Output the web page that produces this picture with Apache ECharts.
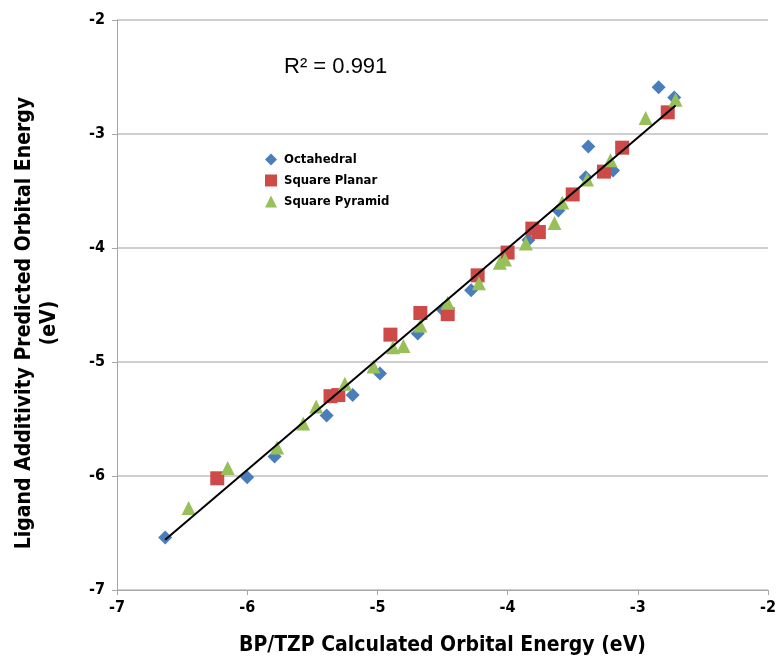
<!DOCTYPE html>
<html>
<head>
<meta charset="utf-8">
<script src="https://cdn.jsdelivr.net/npm/echarts@6/dist/echarts.min.js"></script>
<style>
  html, body { margin: 0; padding: 0; background: #fff; }
  #chart { width: 778px; height: 657px; }
</style>
</head>
<body>
<div id="chart"></div>
<script>
// BP/TZP calculated (x) vs ligand additivity predicted (y), eV
const octaX = [-6.63, -6.00, -5.79, -5.39, -5.19, -4.98, -4.69, -4.50, -4.28, -3.84, -3.61, -3.40, -3.38, -3.19, -2.84, -2.72];
const octaY = [-6.54, -6.01, -5.83, -5.47, -5.29, -5.10, -4.75, -4.54, -4.37, -3.93, -3.67, -3.38, -3.11, -3.32, -2.59, -2.68];

const planarX = [-6.23, -5.36, -5.30, -4.90, -4.67, -4.46, -4.23, -4.00, -3.81, -3.76, -3.50, -3.26, -3.12, -2.77];
const planarY = [-6.02, -5.30, -5.29, -4.76, -4.57, -4.58, -4.24, -4.04, -3.83, -3.86, -3.53, -3.33, -3.12, -2.81];

const pyrX = [-6.45, -6.15, -5.77, -5.57, -5.47, -5.25, -5.03, -4.88, -4.80, -4.67, -4.46, -4.22, -4.06, -4.02, -3.86, -3.64, -3.58, -3.39, -3.21, -2.94, -2.71];
const pyrY = [-6.28, -5.93, -5.75, -5.54, -5.39, -5.19, -5.04, -4.87, -4.86, -4.68, -4.48, -4.31, -4.13, -4.10, -3.96, -3.78, -3.60, -3.40, -3.23, -2.86, -2.70];

// linear fit line end points
const fitX = [-6.63, -2.71];
const fitY = [-6.56, -2.75];

const xTicks = [-7, -6, -5, -4, -3, -2];
const yTicks = [-7, -6, -5, -4, -3, -2];
const r2Label = 'R\u00B2 = 0.991';

const zip = (xs, ys) => xs.map((x, i) => [x, ys[i]]);

const FONT = '"Liberation Sans Narrow", "DejaVu Sans Condensed", "Liberation Sans", sans-serif';

const chart = echarts.init(document.getElementById('chart'));

const option = {
    animation: false,
    textStyle: { fontFamily: FONT },
    grid: { left: 117, right: 10, top: 20, bottom: 67, containLabel: false, outerBoundsMode: 'none' },
    legend: {
        orient: 'vertical',
        left: 260,
        top: 148,
        itemGap: 8,
        itemWidth: 12,
        itemHeight: 12,
        textStyle: { fontFamily: FONT, fontWeight: 'bold', fontSize: 13, color: '#000', padding: [0, 0, 0, 2] },
        data: [
            { name: 'Octahedral', icon: 'diamond' },
            { name: 'Square Planar', icon: 'rect' },
            { name: 'Square Pyramid', icon: 'triangle' }
        ]
    },
    xAxis: {
        type: 'value',
        min: xTicks[0],
        max: xTicks[xTicks.length - 1],
        interval: 1,
        name: 'BP/TZP Calculated Orbital Energy (eV)',
        nameLocation: 'middle',
        nameGap: 45,
        nameTextStyle: { fontFamily: FONT, fontWeight: 'bold', fontSize: 21, color: '#000' },
        axisLine: { lineStyle: { color: '#a6a6a6' } },
        axisTick: { show: true, length: 5, lineStyle: { color: '#a6a6a6' } },
        axisLabel: { fontWeight: 'bold', fontSize: 16, color: '#000', margin: 10 },
        splitLine: { show: false }
    },
    yAxis: {
        type: 'value',
        min: yTicks[0],
        max: yTicks[yTicks.length - 1],
        interval: 1,
        name: 'Ligand Additivity Predicted Orbital Energy\n(eV)',
        nameLocation: 'middle',
        nameGap: 55,
        nameTextStyle: { fontFamily: FONT, fontWeight: 'bold', fontSize: 21, color: '#000', lineHeight: 25, padding: [0, 36, 0, 0] },
        axisLine: { show: true, lineStyle: { color: '#a6a6a6' } },
        axisTick: { show: true, length: 5, lineStyle: { color: '#a6a6a6' } },
        axisLabel: { fontWeight: 'bold', fontSize: 16, color: '#000', margin: 12 },
        splitLine: { show: true, lineStyle: { color: '#bfbfbf', width: 1.5 } }
    },
    graphic: [{
        type: 'text',
        left: 284,
        top: 56,
        style: { text: r2Label, font: '22px "Liberation Sans", sans-serif', fill: '#000' }
    }],
    series: [
        {
            name: 'Octahedral',
            type: 'scatter',
            symbol: 'diamond',
            symbolSize: 14,
            itemStyle: { color: '#4a7ebb', opacity: 1 },
            data: zip(octaX, octaY)
        },
        {
            name: 'Square Planar',
            type: 'scatter',
            symbol: 'rect',
            symbolSize: 14,
            itemStyle: { color: '#cd4a48', opacity: 1 },
            data: zip(planarX, planarY)
        },
        {
            name: 'Square Pyramid',
            type: 'scatter',
            symbol: 'triangle',
            symbolSize: 14,
            itemStyle: { color: '#98c05a', opacity: 1 },
            data: zip(pyrX, pyrY)
        },
        {
            name: 'fit',
            type: 'line',
            symbol: 'none',
            silent: true,
            lineStyle: { color: '#000', width: 2 },
            data: zip(fitX, fitY),
            z: 5
        }
    ]
};

chart.setOption(option);
window.addEventListener('resize', () => chart.resize());
</script>
</body>
</html>
